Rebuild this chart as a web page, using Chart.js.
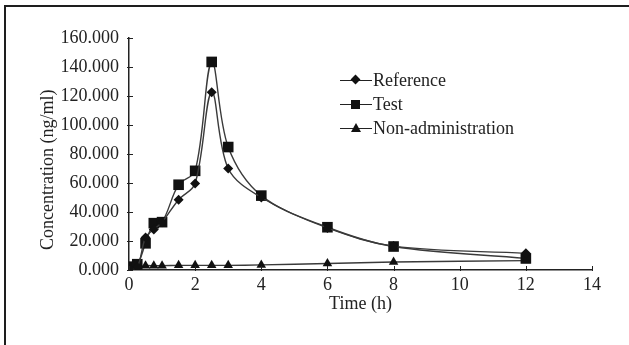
<!DOCTYPE html>
<html>
<head>
<meta charset="utf-8">
<script src="https://cdn.jsdelivr.net/npm/chart.js@4.4.1/dist/chart.umd.min.js"></script>
<style>
  html,body{margin:0;padding:0;background:#fff;}
  #wrap{position:relative;width:629px;height:345px;overflow:hidden;background:#fff;}
  #frame{position:absolute;left:4px;top:5px;right:0;bottom:0;border-left:2.5px solid #1e1e1e;border-top:2.5px solid #1e1e1e;pointer-events:none;}
  #legend{position:absolute;left:340px;top:68px;font-family:"Liberation Serif","Times New Roman",serif;font-size:18px;color:#222;}
  .row{display:flex;align-items:center;height:24px;}
  .mk{position:relative;width:32px;height:24px;margin-right:1px;}
  .mk .ln{position:absolute;left:0;right:0;top:11.5px;height:1.5px;background:#222;}
  .mk .dia{position:absolute;left:12px;top:8px;width:7px;height:7px;background:#111;transform:rotate(45deg);}
  .mk .sq{position:absolute;left:11px;top:7.5px;width:9px;height:9px;background:#111;}
  .mk .tri{position:absolute;left:11px;top:6.5px;width:0;height:0;border-left:5px solid transparent;border-right:5px solid transparent;border-bottom:9px solid #111;}
</style>
</head>
<body>
<div id="wrap">
  <canvas id="c" width="629" height="345"></canvas>
  <div id="frame"></div>
  <div id="legend"></div>
</div>
<script>
const times = [0, 0.25, 0.5, 0.75, 1, 1.5, 2, 2.5, 3, 4, 6, 8, 12];
const referenceVals = [1, 2, 22.5, 28, 33, 48.5, 59.7, 122.6, 70, 50, 29, 16.5, 11.5];
const testVals = [2.3, 4, 18.4, 32.3, 33, 58.8, 68.4, 143.5, 84.8, 51.3, 29.5, 16.2, 8];
const nonAdminVals = [2, 2, 3, 3, 3, 3.2, 3.2, 3.2, 3.2, 3.5, 4.5, 5.5, 6.5];
const seriesNames = ["Reference", "Test", "Non-administration"];
const xTicks = [0, 2, 4, 6, 8, 10, 12, 14];
const yTicks = [0, 20, 40, 60, 80, 100, 120, 140, 160];

const FONT = "'Liberation Serif', 'Times New Roman', serif";
const INK = "#222";

function pts(vals){ return times.map((t,i)=>({x:t, y:vals[i]})); }

// little tick marks that straddle the axis lines, like the original
const innerTicks = {
  id: "innerTicks",
  afterDraw(chart){
    const {ctx, scales:{x, y}} = chart;
    ctx.save();
    ctx.strokeStyle = INK;
    ctx.lineWidth = 1;
    const by = y.getPixelForValue(0);
    xTicks.forEach(v=>{
      const px = Math.round(x.getPixelForValue(v))+0.5;
      ctx.beginPath(); ctx.moveTo(px, by-4); ctx.lineTo(px, by+1); ctx.stroke();
    });
    const lx = x.getPixelForValue(0);
    yTicks.forEach(v=>{
      const py = Math.round(y.getPixelForValue(v))+0.5;
      ctx.beginPath(); ctx.moveTo(lx-2, py); ctx.lineTo(lx+4, py); ctx.stroke();
    });
    ctx.restore();
  }
};

const common = {
  borderColor: "#3a3a3a",
  borderWidth: 1.4,
  pointBackgroundColor: "#111",
  pointBorderColor: "#111",
  pointBorderWidth: 0,
  tension: 0.35,
  fill: false
};

new Chart(document.getElementById("c"), {
  type: "line",
  data: {
    datasets: [
      {...common, label: seriesNames[0], data: pts(referenceVals), pointStyle: "rectRot", pointRadius: 5},
      {...common, label: seriesNames[1], data: pts(testVals), pointStyle: "rect", pointRadius: 7.5},
      {...common, label: seriesNames[2], data: pts(nonAdminVals), pointStyle: "triangle", pointRadius: 5.5}
    ]
  },
  plugins: [innerTicks],
  options: {
    responsive: false,
    animation: false,
    events: [],
    layout: { padding: { left: 37, top: 38, right: 37, bottom: 30 } },
    plugins: { legend: { display: false }, tooltip: { enabled: false } },
    scales: {
      x: {
        type: "linear", min: 0, max: 14,
        afterBuildTicks: s => { s.ticks = xTicks.map(v=>({value:v})); },
        afterFit: s => { s.height = 45; },
        grid: { display: false },
        border: { display: true, color: INK, width: 1.5 },
        ticks: { color: INK, font: { family: FONT, size: 18 }, padding: -4, maxRotation: 0 },
        title: { display: true, text: "Time (h)", color: INK, font: { family: FONT, size: 18 }, padding: { top: 0, bottom: 0 } }
      },
      y: {
        min: 0, max: 160,
        afterBuildTicks: s => { s.ticks = yTicks.map(v=>({value:v})); },
        afterFit: s => { s.width = 92; },
        grid: { display: false },
        border: { display: true, color: INK, width: 1.5 },
        ticks: { color: INK, font: { family: FONT, size: 18 }, padding: 2, callback: v => v.toFixed(3) },
        title: { display: true, text: "Concentration (ng/ml)       ", color: INK, font: { family: FONT, size: 18 }, padding: 0 }
      }
    }
  }
});

// legend, built from the series names
const legendMarks = ["dia", "sq", "tri"];
document.getElementById("legend").innerHTML = seriesNames.map((n,i)=>
  `<div class="row"><div class="mk"><div class="ln"></div><div class="${legendMarks[i]}"></div></div><span>${n}</span></div>`
).join("");
</script>
</body>
</html>
